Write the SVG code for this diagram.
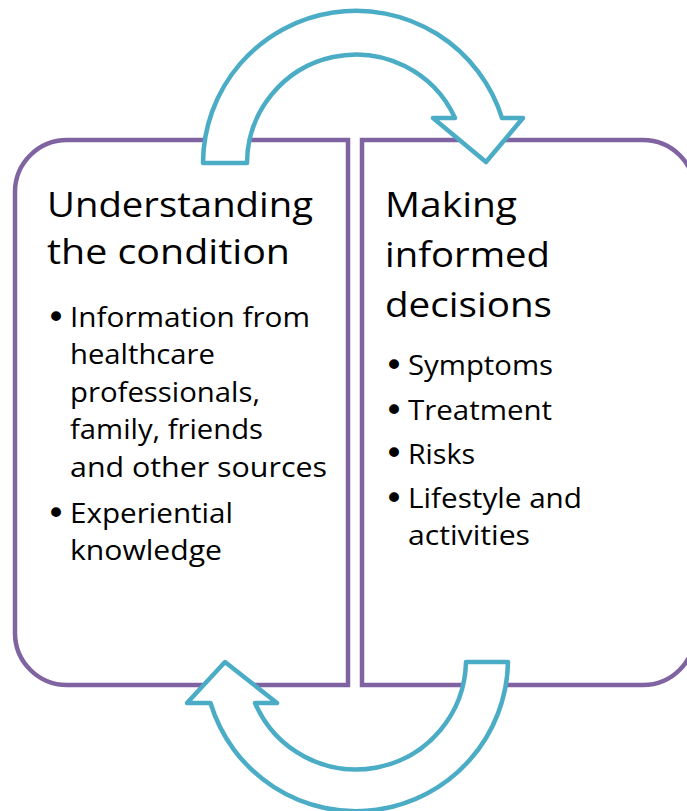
<svg xmlns="http://www.w3.org/2000/svg" width="687" height="811" viewBox="0 0 687 811">
<style>
  .box { fill: #ffffff; stroke: #8064A2; stroke-width: 4.5; }
  .arrow { fill: #ffffff; stroke: #4BACC6; stroke-width: 4.5; stroke-linejoin: round; }
  .head { font-family: "Open Sans", "Noto Sans", sans-serif; font-size: 34px; fill: #000000; }
  .item { font-family: "Open Sans", "Noto Sans", sans-serif; font-size: 28px; fill: #000000; }
  .dot { font-family: "DejaVu Sans", sans-serif; font-size: 34px; }
</style>
<rect x="0" y="0" width="687" height="811" fill="#ffffff"/>
<g id="node-understanding">
  <path class="box" d="M 15,192 A 52 52 0 0 1 67,140 L 348,140 L 348,685 L 67,685 A 52 52 0 0 1 15,633 Z"/>
  <text class="head" x="47" y="217" textLength="266" lengthAdjust="spacingAndGlyphs">Understanding</text>
  <text class="head" x="47" y="264" textLength="243" lengthAdjust="spacingAndGlyphs">the condition</text>
  <text class="item" x="47" y="327"><tspan class="dot" x="46" y="329">•</tspan><tspan x="70" y="327" textLength="240" lengthAdjust="spacingAndGlyphs">Information from</tspan></text>
  <text class="item" x="70" y="364" textLength="145" lengthAdjust="spacingAndGlyphs">healthcare</text>
  <text class="item" x="70" y="402" textLength="190" lengthAdjust="spacingAndGlyphs">professionals,</text>
  <text class="item" x="70" y="439" textLength="193" lengthAdjust="spacingAndGlyphs">family, friends</text>
  <text class="item" x="70" y="477" textLength="257" lengthAdjust="spacingAndGlyphs">and other sources</text>
  <text class="item" x="47" y="523"><tspan class="dot" x="46" y="525">•</tspan><tspan x="70" y="523" textLength="163" lengthAdjust="spacingAndGlyphs">Experiential</tspan></text>
  <text class="item" x="70" y="560" textLength="152" lengthAdjust="spacingAndGlyphs">knowledge</text>
</g>
<g id="node-decisions">
  <path class="box" d="M 362,140 L 643,140 A 52 52 0 0 1 695,192 L 695,633 A 52 52 0 0 1 643,685 L 362,685 Z"/>
  <text class="head" x="385" y="217" textLength="132" lengthAdjust="spacingAndGlyphs">Making</text>
  <text class="head" x="385" y="267" textLength="165" lengthAdjust="spacingAndGlyphs">informed</text>
  <text class="head" x="385" y="317" textLength="167" lengthAdjust="spacingAndGlyphs">decisions</text>
  <text class="item" x="385" y="375"><tspan class="dot" x="384" y="377">•</tspan><tspan x="408" y="375" textLength="145" lengthAdjust="spacingAndGlyphs">Symptoms</tspan></text>
  <text class="item" x="385" y="420"><tspan class="dot" x="384" y="422">•</tspan><tspan x="408" y="420" textLength="144" lengthAdjust="spacingAndGlyphs">Treatment</tspan></text>
  <text class="item" x="385" y="464"><tspan class="dot" x="384" y="465">•</tspan><tspan x="408" y="464" textLength="67" lengthAdjust="spacingAndGlyphs">Risks</tspan></text>
  <text class="item" x="385" y="508"><tspan class="dot" x="384" y="510">•</tspan><tspan x="408" y="508" textLength="174" lengthAdjust="spacingAndGlyphs">Lifestyle and</tspan></text>
  <text class="item" x="408" y="545" textLength="122" lengthAdjust="spacingAndGlyphs">activities</text>
</g>
<g id="connectors">
  <path id="arrow-top" class="arrow" d="M 203,163 A 153 153 0 0 1 502,118 L 523,118 L 486,162 L 433,118 L 455,118 A 109 109 0 0 0 247,163 Z"/>
  <path id="arrow-bottom" class="arrow" d="M 508,662 A 152 152 0 0 1 210.5,703 L 187,703 L 225,662 L 277,703 L 255,703 A 110 110 0 0 0 466,662 Z"/>
</g>
</svg>
